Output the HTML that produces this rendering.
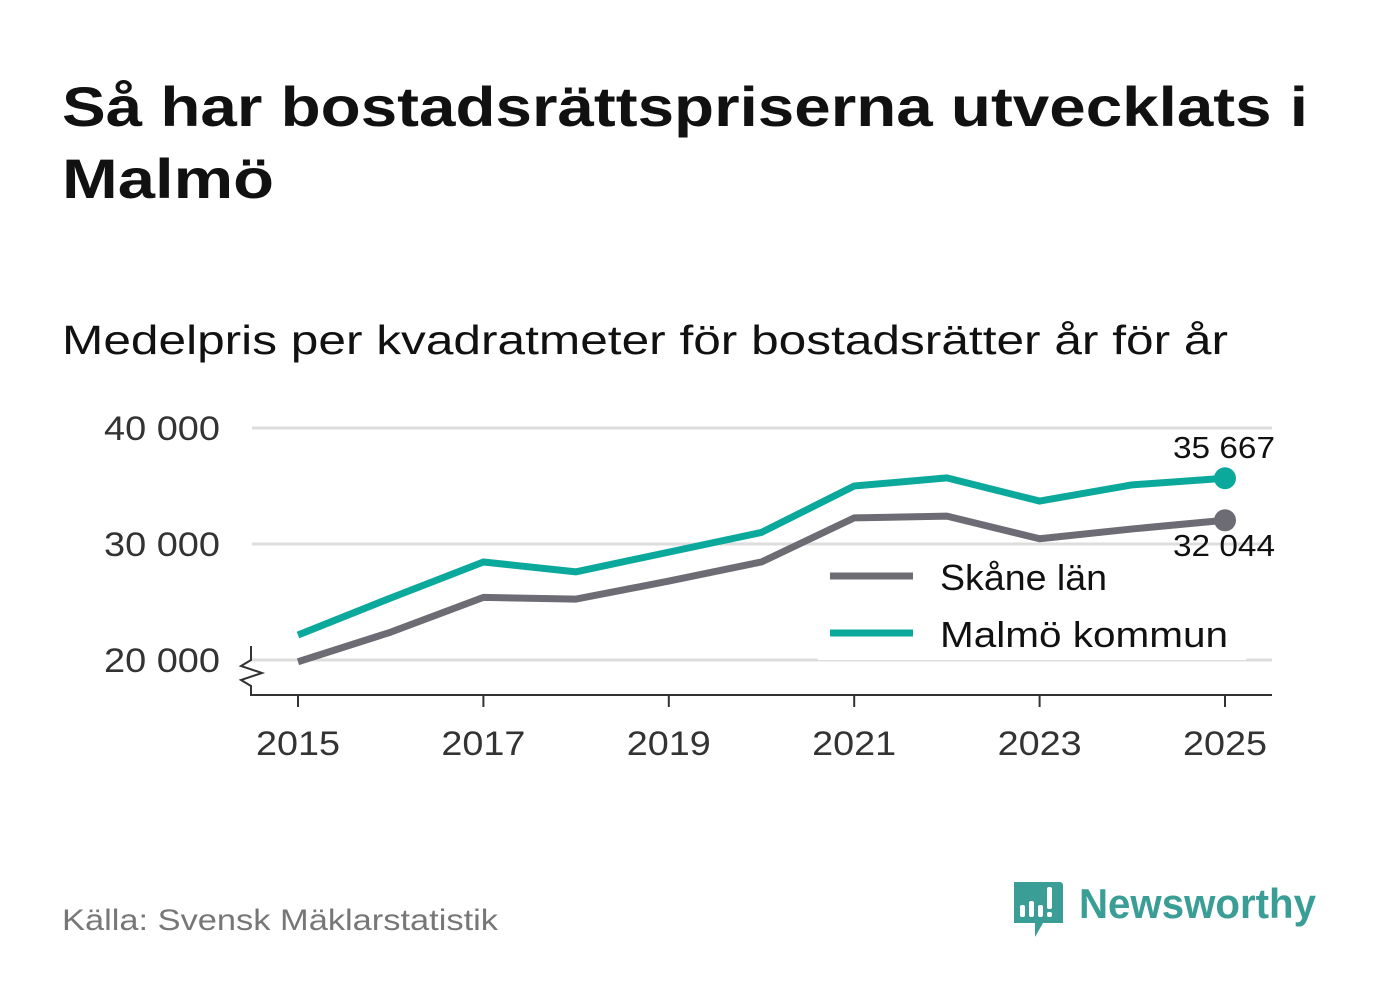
<!DOCTYPE html>
<html><head><meta charset="utf-8"><style>
body{margin:0;background:#fff;width:1382px;height:999px;overflow:hidden;font-family:"Liberation Sans","DejaVu Sans",sans-serif}
svg{position:absolute;left:0;top:0}
</style></head><body>
<svg id="c" width="1382" height="999">
<text x="62" y="126" font-size="56" font-weight="bold" fill="#111" textLength="1246" lengthAdjust="spacingAndGlyphs">Så har bostadsrättspriserna utvecklats i</text>
<text x="62" y="198" font-size="56" font-weight="bold" fill="#111" textLength="212" lengthAdjust="spacingAndGlyphs">Malmö</text>
<text x="62" y="354" font-size="41" fill="#111" textLength="1166" lengthAdjust="spacingAndGlyphs">Medelpris per kvadratmeter för bostadsrätter år för år</text>
<text x="62" y="930" font-size="30" fill="#777" textLength="436" lengthAdjust="spacingAndGlyphs">Källa: Svensk Mäklarstatistik</text>
<g>
<path d="M1014 882 h46 a3 3 0 0 1 3 3 v38 h-20 l-8 14 v-14 h-21 z" fill="#3a9e96"/>
<rect x="1020" y="905" width="5" height="12" rx="2" fill="#fff"/><rect x="1029" y="901" width="5" height="16" rx="2" fill="#fff"/><rect x="1038" y="905" width="5" height="12" rx="2" fill="#fff"/><rect x="1047" y="887" width="5" height="22" rx="2" fill="#fff"/><rect x="1047" y="912" width="5" height="5" rx="2" fill="#fff"/>
<text x="1079" y="918" font-size="42" font-weight="bold" fill="#3a9e96" textLength="237" lengthAdjust="spacingAndGlyphs">Newsworthy</text>
</g>
<g id="plot"></g>
</svg>
<script>
const years=[2015,2016,2017,2018,2019,2020,2021,2022,2023,2024,2025];
const malmo=[22150,25350,28450,27600,29300,31000,35000,35700,33700,35100,35667];
const skane=[19850,22400,25400,25250,26800,28450,32250,32400,30450,31300,32044];
const yTicks=[20000,30000,40000];
const xTicks=[2015,2017,2019,2021,2023,2025];
const X=y=>298+(y-2015)*92.7;
const Y=v=>660-(v-20000)*0.0116;
const ns='http://www.w3.org/2000/svg';
const g=document.getElementById('plot');
function el(t,a,txt){const e=document.createElementNS(ns,t);for(const k in a)e.setAttribute(k,a[k]);if(txt!=null)e.textContent=txt;g.appendChild(e);return e;}
const fmt=v=>String(Math.round(v)).replace(/\B(?=(\d{3})+(?!\d))/g,' ');
yTicks.forEach(v=>{
 const l=el('line',{x1:252,x2:1272,y1:Y(v),y2:Y(v),stroke:'#ddd','stroke-width':3});
 
 
 const t=el('text',{x:220,y:Y(v)+12,'font-size':34,fill:'#333','text-anchor':'end',textLength:116,lengthAdjust:'spacingAndGlyphs'},fmt(v));
 
 
});
const ax=el('path',{d:'M251 646 V660 L241 666 L262 673 L241 680 L251 686 V695 H1272',fill:'none',stroke:'#333','stroke-width':2});


xTicks.forEach(y=>{
 const k=el('line',{x1:X(y),x2:X(y),y1:695,y2:707,stroke:'#333','stroke-width':2});
 
 
 const t=el('text',{x:X(y),y:755,'font-size':34,fill:'#333','text-anchor':'middle',textLength:84,lengthAdjust:'spacingAndGlyphs'},y);
 
 
});
function series(vals,col,name){
 const p=el('polyline',{points:vals.map((v,i)=>X(years[i])+','+Y(v)).join(' '),fill:'none',stroke:col,'stroke-width':7,'stroke-linejoin':'round'});
 
 
 const n=vals.length-1;
 const c=el('circle',{cx:X(years[n]),cy:Y(vals[n]),r:11,fill:col});
 
 
}
series(skane,'#6d6c74','skane');
series(malmo,'#0ba99c','malmo');
const lb=el('rect',{x:818,y:548,width:428,height:112,fill:'#fff'});


const l1=el('line',{x1:830,x2:913,y1:576,y2:576,stroke:'#6d6c74','stroke-width':7});


const t1=el('text',{x:940,y:590,'font-size':36,fill:'#111',textLength:167,lengthAdjust:'spacingAndGlyphs'},'Skåne län');


const l2=el('line',{x1:830,x2:913,y1:633,y2:633,stroke:'#0ba99c','stroke-width':7});


const t2=el('text',{x:940,y:647,'font-size':36,fill:'#111',textLength:288,lengthAdjust:'spacingAndGlyphs'},'Malmö kommun');


const v1=el('text',{x:1275,y:458,'font-size':31,fill:'#111','text-anchor':'end',textLength:102,lengthAdjust:'spacingAndGlyphs'},fmt(malmo[malmo.length-1]));


const v2=el('text',{x:1275,y:556,'font-size':31,fill:'#111','text-anchor':'end',textLength:102,lengthAdjust:'spacingAndGlyphs'},fmt(skane[skane.length-1]));


</script>
</body></html>
